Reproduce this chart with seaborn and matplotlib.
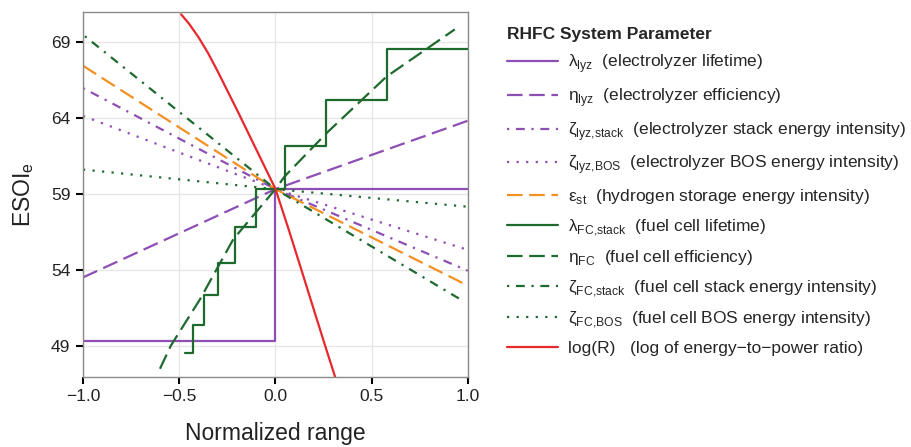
import matplotlib
matplotlib.use("Agg")
import matplotlib.pyplot as plt
import seaborn as sns
import pandas as pd

# values (x = normalized range, y = ESOI_e)
lyz_life_x = [-1.0, 0.0, 1.0]
lyz_life_y = [49.33, 59.35, 59.35]

lyz_eff_x = [-1.0, 0.0, 1.0]
lyz_eff_y = [53.54, 59.35, 63.85]

lyz_stack_x = [-1.0, 0.0, 1.0]
lyz_stack_y = [66.0, 59.35, 53.98]

lyz_bos_x = [-1.0, 0.0, 1.0]
lyz_bos_y = [64.17, 59.35, 55.35]

st_x = [-1.0, 0.0, 1.0]
st_y = [67.47, 59.35, 53.0]

fc_life_x = [-0.472, -0.429, -0.373, -0.299, -0.21, -0.1, 0.051, 0.264, 0.581, 1.0]
fc_life_y = [48.58, 50.44, 52.4, 54.52, 56.86, 59.39, 62.17, 65.22, 68.56, 68.56]

fc_eff_x = [-0.6, -0.544, -0.392, -0.219, 0.0, 0.049, 0.266, 0.577, 0.932]
fc_eff_y = [47.53, 49.04, 52.1, 56.05, 59.35, 60.2, 63.04, 66.75, 69.86]

fc_stack_x = [-0.99, 0.0, 0.974]
fc_stack_y = [69.41, 59.35, 52.0]

fc_bos_x = [-1.0, 0.0, 1.0]
fc_bos_y = [60.64, 59.35, 58.19]

logr_x = [-0.49, -0.45, -0.4, -0.35, -0.3, -0.2, -0.1, 0.0, 0.07, 0.136, 0.2, 0.262, 0.31]
logr_y = [70.85, 70.25, 69.35, 68.3, 67.1, 64.57, 61.97, 59.37, 56.65, 54.0, 51.4, 48.9, 47.0]

purple = "#8E4FB5"
orange = "#F39022"
green = "#1E6A2E"
red = "#E8282C"

solid = "-"
longdash = (0, (7, 3))
dotdash = (0, (1, 3, 4, 3))
dotted = (0, (1, 3.3))

series = [
    (lyz_life_x, lyz_life_y, purple, solid, "steps-post",
     "λ$_\\mathregular{lyz}$  (electrolyzer lifetime)"),
    (lyz_eff_x, lyz_eff_y, purple, longdash, "default",
     "η$_\\mathregular{lyz}$  (electrolyzer efficiency)"),
    (lyz_stack_x, lyz_stack_y, purple, dotdash, "default",
     "ζ$_\\mathregular{lyz{,}stack}$  (electrolyzer stack energy intensity)"),
    (lyz_bos_x, lyz_bos_y, purple, dotted, "default",
     "ζ$_\\mathregular{lyz{,}BOS}$  (electrolyzer BOS energy intensity)"),
    (st_x, st_y, orange, longdash, "default",
     "ε$_\\mathregular{st}$  (hydrogen storage energy intensity)"),
    (fc_life_x, fc_life_y, green, solid, "steps-post",
     "λ$_\\mathregular{FC{,}stack}$  (fuel cell lifetime)"),
    (fc_eff_x, fc_eff_y, green, longdash, "default",
     "η$_\\mathregular{FC}$  (fuel cell efficiency)"),
    (fc_stack_x, fc_stack_y, green, dotdash, "default",
     "ζ$_\\mathregular{FC{,}stack}$  (fuel cell stack energy intensity)"),
    (fc_bos_x, fc_bos_y, green, dotted, "default",
     "ζ$_\\mathregular{FC{,}BOS}$  (fuel cell BOS energy intensity)"),
    (logr_x, logr_y, red, solid, "default",
     "log(R)   (log of energy\u2212to\u2212power ratio)"),
]

sns.set_theme(style="ticks")
plt.rcParams["font.family"] = ["Liberation Sans", "DejaVu Sans"]

fig = plt.figure(figsize=(9.12, 4.47), dpi=100)
ax = fig.add_axes([0.091, 0.157, 0.422, 0.816])

for xs, ys, color, ls, ds, label in series:
    df = pd.DataFrame({"x": xs, "y": ys})
    sns.lineplot(data=df, x="x", y="y", ax=ax, color=color, linestyle=ls,
                 drawstyle=ds, linewidth=1.6, estimator=None, sort=False,
                 label=label)

ax.set_xlim(-1, 1)
ax.set_ylim(47.0, 71.0)
ax.set_xticks([-1.0, -0.5, 0.0, 0.5, 1.0])
ax.set_xticklabels(["\u22121.0", "\u22120.5", "0.0", "0.5", "1.0"])
ax.set_yticks([49, 54, 59, 64, 69])
ax.grid(True, color="#e6e6e6", linewidth=0.9)
ax.set_axisbelow(True)
for sp in ax.spines.values():
    sp.set_color("#8a8a8a")
    sp.set_linewidth(1.0)
ax.tick_params(axis="both", length=5, width=1.5, color="black",
               labelsize=12.5, pad=4, labelcolor="#222222")

ax.set_xlabel("Normalized range", fontsize=16.5, labelpad=13, color="#222222")
ax.set_ylabel("ESOI$_\\mathregular{e}$", fontsize=16.5, labelpad=11, color="#222222")

leg = ax.legend(loc="upper left", bbox_to_anchor=(0.539, 0.975),
                bbox_transform=fig.transFigure, frameon=False,
                title="RHFC System Parameter", fontsize=12.5,
                title_fontproperties={"weight": "bold", "size": 12.5},
                alignment="left", handlelength=2.9, handletextpad=0.6,
                labelspacing=0.62)

plt.savefig("out.png", dpi=100)
plt.close()
